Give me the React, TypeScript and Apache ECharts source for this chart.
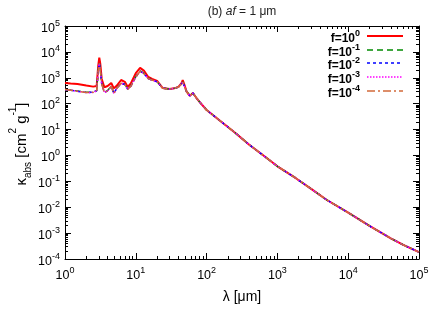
import React, { useEffect, useRef } from "react";
import * as echarts from "echarts";

const lambdaUm = [1, 1.2, 1.5, 2, 2.5, 2.8, 2.95, 3.05, 3.15, 3.3, 3.6, 4.0, 4.5, 4.9, 5.4, 6.2, 7.0, 7.7, 8.5, 10, 11.5, 13, 15, 17, 20, 24, 30, 35, 40, 44, 46, 48, 52, 58, 64, 72, 80, 100, 150, 250, 400, 700, 1000, 1800, 3000, 5000, 10000, 20000, 40000, 60000, 100000];

const kappaF0 = [630, 600, 570, 500, 455, 480, 3000, 6000, 3500, 900, 430, 480, 630, 390, 500, 820, 700, 440, 600, 1500, 2400, 1900, 1070, 900, 760, 400, 370, 390, 445, 600, 820, 600, 300, 200, 258, 165, 115, 57, 23.4, 7.7, 2.6, 0.81, 0.38, 0.135, 0.051, 0.019, 0.0062, 0.0019, 0.00063, 0.00035, 0.000185];
const kappaF1 = [340, 335, 310, 275, 280, 320, 2000, 3700, 2100, 600, 280, 320, 480, 258, 400, 630, 560, 370, 480, 1100, 1830, 1500, 940, 820, 710, 400, 370, 390, 440, 580, 700, 520, 300, 200, 258, 165, 115, 57, 23.4, 7.7, 2.6, 0.81, 0.38, 0.135, 0.051, 0.019, 0.0062, 0.0019, 0.00063, 0.00035, 0.000185];
const kappaF2 = [345, 330, 300, 270, 275, 315, 1900, 3600, 2000, 580, 270, 315, 470, 250, 395, 620, 550, 360, 470, 1080, 1800, 1480, 930, 815, 705, 398, 369, 389, 440, 578, 698, 518, 299, 199, 257, 165, 115, 57, 23.4, 7.7, 2.6, 0.81, 0.38, 0.135, 0.051, 0.019, 0.0062, 0.0019, 0.00063, 0.00035, 0.000185];
const kappaF3 = [350, 330, 300, 268, 272, 312, 1880, 3550, 1980, 570, 265, 312, 465, 245, 392, 615, 548, 358, 468, 1075, 1790, 1470, 928, 812, 703, 397, 368, 388, 439, 577, 697, 517, 298, 198, 256, 164, 115, 57, 23.4, 7.7, 2.6, 0.81, 0.38, 0.135, 0.051, 0.019, 0.0062, 0.0019, 0.00063, 0.00035, 0.000185];
const kappaF4 = [352, 332, 302, 270, 274, 314, 1900, 3580, 1990, 575, 268, 314, 468, 248, 395, 618, 550, 360, 470, 1078, 1795, 1475, 930, 814, 704, 398, 369, 389, 440, 578, 698, 518, 299, 199, 257, 165, 115, 57, 23.4, 7.7, 2.6, 0.81, 0.38, 0.135, 0.051, 0.019, 0.0062, 0.0019, 0.00063, 0.00035, 0.000185];

const seriesNames = ["f=10^0", "f=10^-1", "f=10^-2", "f=10^-3", "f=10^-4"];
const legendExponents = ["0", "-1", "-2", "-3", "-4"];
const xTickLabels = ["1", "10", "100", "1000", "10000", "100000"];

const FONT = "Liberation Sans, Arial, Helvetica, sans-serif";

const styles = [
  { color: "#ff0000", width: 2, type: "solid" as any },
  { color: "#008a00", width: 1.5, type: [6, 4] as any },
  { color: "#0000ff", width: 1.5, type: [3, 3] as any },
  { color: "#ff00ff", width: 1.5, type: [1.5, 1.5] as any },
  { color: "#d2693a", width: 1.5, type: [8, 3, 2, 3] as any },
];

const expFormatter = (v: number) => {
  const e = Math.round(Math.log10(v));
  return `{b|10}{s|${e}}`;
};

const labelRich = {
  b: { fontSize: 12.5, fontFamily: FONT, color: "#000", padding: [3, 0, 0, 0], verticalAlign: "bottom" },
  s: { fontSize: 9, fontFamily: FONT, color: "#000", verticalAlign: "top" },
};

export default function App() {
  const ref = useRef<HTMLDivElement>(null);
  useEffect(() => {
    if (!ref.current) return;
    const chart = echarts.init(ref.current, null, { renderer: "svg" });
    const data = [kappaF0, kappaF1, kappaF2, kappaF3, kappaF4];
    const axisCommon = {
      type: "log" as const,
      logBase: 10,
      axisLine: { show: true, lineStyle: { color: "#000", width: 1 } },
      axisTick: { show: true, inside: true, length: 6, lineStyle: { color: "#000" } },
      minorTick: { show: true, splitNumber: 9, length: 3, lineStyle: { color: "#000" } },
      splitLine: { show: false },
      minorSplitLine: { show: false },
    };
    const legendGraphics: any[] = [];
    const rowY = [36, 50, 63, 77, 91];
    legendExponents.forEach((e, i) => {
      legendGraphics.push({
        type: "text",
        x: 360,
        y: rowY[i],
        style: {
          text: `{b|f=10}{s|${e}}`,
          align: "right",
          verticalAlign: "middle",
          rich: {
            b: { fontSize: 12, fontWeight: "bold", fontFamily: FONT, fill: "#000", padding: [3, 0, 0, 0], verticalAlign: "bottom" },
            s: { fontSize: 9, fontWeight: "bold", fontFamily: FONT, fill: "#000", verticalAlign: "top" },
          },
        },
      });
      legendGraphics.push({
        type: "line",
        shape: { x1: 367, y1: rowY[i], x2: 403, y2: rowY[i] },
        style: { stroke: styles[i].color, lineWidth: styles[i].width, lineDash: styles[i].type === "solid" ? null : styles[i].type },
      });
    });
    chart.setOption({
      animation: false,
      grid: { left: 65, right: 17, top: 26, bottom: 68 },
      xAxis: [
        { ...axisCommon, min: 1, max: 1e5, position: "bottom", splitNumber: 5,
          axisLabel: { show: true, formatter: expFormatter, rich: labelRich, margin: 6 } },
        { ...axisCommon, min: 1, max: 1e5, position: "top", splitNumber: 5, axisLabel: { show: false } },
      ],
      yAxis: [
        { ...axisCommon, min: 1e-4, max: 1e5, position: "left", splitNumber: 9,
          axisLabel: { show: true, formatter: expFormatter, rich: labelRich, margin: 5 } },
        { ...axisCommon, min: 1e-4, max: 1e5, position: "right", splitNumber: 9, axisLabel: { show: false } },
      ],
      series: data.map((d, i) => ({
        name: seriesNames[i],
        type: "line",
        xAxisIndex: 0,
        yAxisIndex: 0,
        showSymbol: false,
        symbol: "none",
        data: lambdaUm.map((x, j) => [x, d[j]]),
        lineStyle: { color: styles[i].color, width: styles[i].width, type: styles[i].type },
        z: 2 + i,
      })),
      graphic: [
        {
          type: "text",
          x: 242,
          y: 11,
          style: {
            text: "{n|(b) }{i|af}{n| = 1 μm}",
            align: "center",
            verticalAlign: "middle",
            rich: {
              n: { fontSize: 12, fontFamily: FONT, fill: "#222" },
              i: { fontSize: 12, fontFamily: FONT, fontStyle: "italic", fill: "#222" },
            },
          },
        },
        {
          type: "text",
          x: 242,
          y: 296,
          style: {
            text: "λ [μm]",
            align: "center",
            verticalAlign: "middle",
            fontSize: 14,
            fontFamily: FONT,
            fill: "#000",
          },
        },
        {
          type: "text",
          x: 20,
          y: 144,
          rotation: Math.PI / 2,
          style: {
            text: "{b|κ}{sub|abs}{b| [cm}{sup|2}{b| g}{sup|-1}{b|]}",
            align: "center",
            verticalAlign: "middle",
            rich: {
              b: { fontSize: 15, fontFamily: FONT, fill: "#000", padding: [5, 0, 5, 0] },
              sup: { fontSize: 10, fontFamily: FONT, fill: "#000", verticalAlign: "top" },
              sub: { fontSize: 10, fontFamily: FONT, fill: "#000", verticalAlign: "bottom" },
            },
          },
        },
        ...legendGraphics,
      ],
    });
    return () => chart.dispose();
  }, []);
  return <div ref={ref} style={{ position: "fixed", left: 0, top: 0, width: 436, height: 327 }} />;
}
